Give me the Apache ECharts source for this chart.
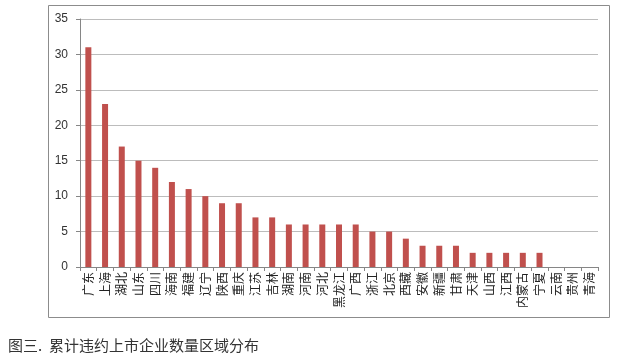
<!DOCTYPE html>
<html><head><meta charset="utf-8">
<script src="https://cdn.jsdelivr.net/npm/echarts@6/dist/echarts.min.js"></script>
<style>html,body{margin:0;padding:0;background:#fff}#c{width:617px;height:360px}</style>
</head><body><div id="c"></div>
<script>
const categories = ['广东','上海','湖北','山东','四川','海南','福建','辽宁','陕西','重庆','江苏','吉林','湖南','河南','河北','黑龙江','广西','浙江','北京','西藏','安徽','新疆','甘肃','天津','山西','江西','内蒙古','宁夏','云南','贵州','青海'];
const counts = [31,23,17,15,14,12,11,10,9,9,7,7,6,6,6,6,6,5,5,4,3,3,3,2,2,2,2,2,0,0,0];
const yTicks = [0,5,10,15,20,25,30,35];
const caption = '图三.  累计违约上市企业数量区域分布';

const chart = echarts.init(document.getElementById('c'));
chart.setOption({
  animation: false,
  graphic: [
    {type:'rect', shape:{x:48.5,y:5.5,width:561,height:312}, style:{fill:'none', stroke:'#8c8c8c', lineWidth:1}},
    {type:'text', left:8, top:338, style:{text:caption, font:'15px "Noto Sans CJK SC"', fill:'#333'}}
  ],
  grid: {left:80, right:19, top:19, bottom:93},
  xAxis: {
    type:'category', data:categories,
    axisLine:{lineStyle:{color:'#868686'}},
    axisTick:{show:true, lineStyle:{color:'#868686'}, length:4},
    axisLabel:{interval:0, rotate:90, margin:5, fontFamily:'"Noto Sans CJK SC"', fontSize:12, color:'#222'}
  },
  yAxis: {
    type:'value', min:0, max:35, interval:5,
    axisLine:{show:true, lineStyle:{color:'#868686'}},
    axisTick:{show:true, lineStyle:{color:'#868686'}, length:4},
    axisLabel:{fontFamily:'Liberation Sans', fontSize:12, color:'#333', margin:12, formatter:v=>yTicks.includes(v)?String(v):''},
    splitLine:{lineStyle:{color:'#bcbcbc'}}
  },
  series: [{type:'bar', data:counts, barWidth:6, itemStyle:{color:'#c0504d'}}]
});
</script></body></html>
